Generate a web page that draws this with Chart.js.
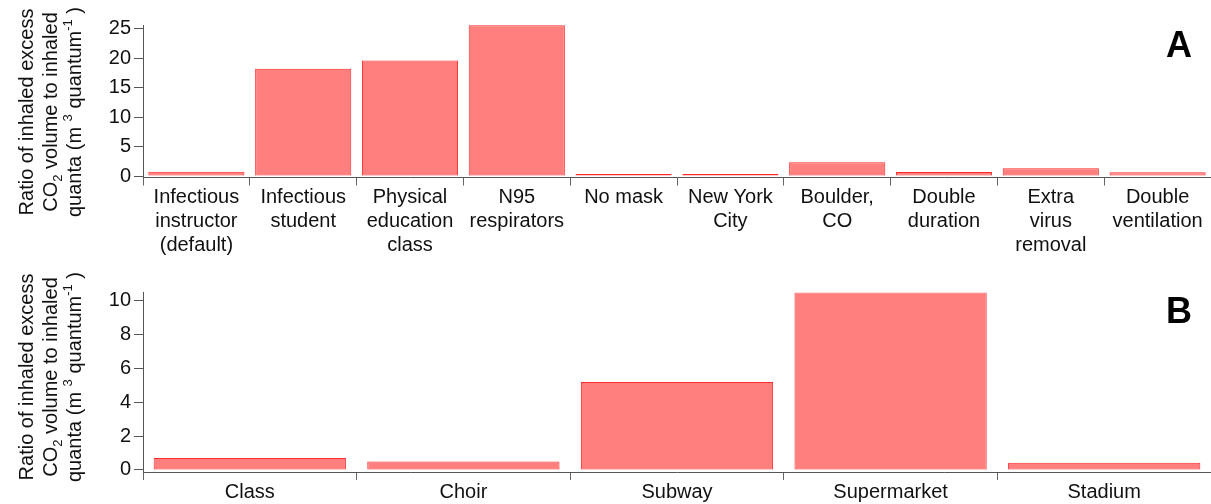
<!DOCTYPE html>
<html><head><meta charset="utf-8">
<script src="https://cdn.jsdelivr.net/npm/chart.js@4"></script>
<style>
html,body{margin:0;padding:0;background:#fff;overflow:hidden;}
canvas{display:block;}
</style></head><body>
<canvas id="cA" width="1211" height="260"></canvas>
<canvas id="cB" width="1211" height="244"></canvas>
<script>
const categoriesA = [["Infectious","instructor","(default)"],["Infectious","student"],["Physical","education","class"],["N95","respirators"],"No mask",["New York","City"],["Boulder,","CO"],["Double","duration"],["Extra","virus","removal"],["Double","ventilation"]];
const valuesA = [0.72, 18.2, 19.6, 25.55, 0.25, 0.15, 2.35, 0.68, 1.3, 0.62];
const ticksA = [0, 5, 10, 15, 20, 25];
const categoriesB = ["Class","Choir","Subway","Supermarket","Stadium"];
const valuesB = [0.7, 0.5, 5.2, 10.5, 0.43];
const ticksB = [0, 2, 4, 6, 8, 10];
const panelLetters = ["A", "B"];

const FONT = "'Liberation Sans', Arial, sans-serif";
const titleLines = [
  [{t:"Ratio of inhaled excess", s:20}],
  [{t:"CO", s:20}, {t:"2", s:13, dy:5}, {t:" volume to inhaled", s:20}],
  [{t:"quanta (m ", s:20}, {t:"3", s:13, dy:-9}, {t:" quantum", s:20}, {t:"-1", s:13, dy:-9}, {t:" )", s:20}]
];

function decor(letter, letterBaseline, titleCenterY) {
  return {
    id: 'decor' + letter,
    afterDraw(chart) {
      const ctx = chart.ctx;
      ctx.save();
      ctx.fillStyle = '#111';
      ctx.textBaseline = 'alphabetic';
      const baselines = [33, 57, 81];
      titleLines.forEach((pieces, i) => {
        let total = 0;
        pieces.forEach(p => { ctx.font = p.s + 'px ' + FONT; p.w = ctx.measureText(p.t).width; total += p.w; });
        ctx.save();
        ctx.translate(baselines[i], titleCenterY);
        ctx.rotate(-Math.PI / 2);
        let x = -total / 2;
        ctx.textAlign = 'left';
        pieces.forEach(p => { ctx.font = p.s + 'px ' + FONT; ctx.fillText(p.t, x, p.dy || 0); x += p.w; });
        ctx.restore();
      });
      ctx.font = 'bold 36px ' + FONT;
      ctx.fillStyle = '#000';
      ctx.textAlign = 'left';
      ctx.fillText(letter, 1166, letterBaseline);
      ctx.restore();
    }
  };
}

function makeOptions(ticks, min, max, padTop, xH, yW) {
  return {
    responsive: false, animation: false, devicePixelRatio: 1,
    layout: {padding: {top: padTop, left: 0, right: 0, bottom: 0}},
    plugins: {legend: {display: false}, tooltip: {enabled: false}},
    scales: {
      x: {
        grid: {display: true, offset: true, drawOnChartArea: false, drawTicks: true, tickLength: 8, color: '#666', lineWidth: 1},
        border: {display: true, color: '#555', width: 1},
        ticks: {color: '#111', font: {family: FONT, size: 20, lineHeight: 1.2}, padding: 0, maxRotation: 0, autoSkip: false},
        afterFit(s) { s.height = xH; }
      },
      y: {
        min: min, max: max,
        grid: {display: true, drawOnChartArea: false, drawTicks: true, tickLength: 9, color: '#555', lineWidth: 1},
        border: {display: true, color: '#555', width: 1},
        ticks: {color: '#111', font: {family: FONT, size: 20}, padding: 3},
        afterBuildTicks(s) { s.ticks = ticks.map(v => ({value: v})); },
        afterFit(s) { s.width = yW; }
      }
    }
  };
}

function dataset(values) {
  return {
    data: values,
    backgroundColor: '#ff7f7f',
    borderColor: '#ff2a2a',
    borderWidth: 1,
    borderSkipped: false,
    minBarLength: 2,
    barPercentage: 0.9,
    categoryPercentage: 1.0
  };
}

new Chart(document.getElementById('cA'), {
  type: 'bar',
  data: {labels: categoriesA, datasets: [dataset(valuesA)]},
  options: makeOptions(ticksA, -0.25, 25.6, 25, 82.5, 143),
  plugins: [decor(panelLetters[0], 57, 112)]
});

new Chart(document.getElementById('cB'), {
  type: 'bar',
  data: {labels: categoriesB, datasets: [dataset(valuesB)]},
  options: makeOptions(ticksB, -0.12, 10.47, 32.7, 32, 143),
  plugins: [decor(panelLetters[1], 63, 117)]
});
</script>
</body></html>
